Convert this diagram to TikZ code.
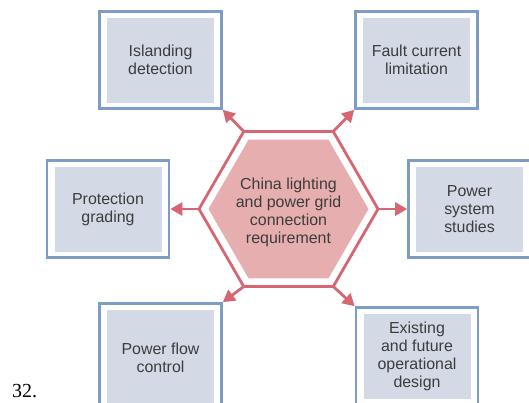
\documentclass[tikz,border=0pt]{standalone}
\usepackage{fontspec}
\setmainfont{Liberation Sans}
\newfontfamily\numfont{Liberation Serif}
\usetikzlibrary{arrows,arrows.meta,shapes}
\definecolor{hexred}{RGB}{214,102,114}
\definecolor{hexfill}{RGB}{230,174,174}
\definecolor{boxblue}{RGB}{126,157,197}
\definecolor{boxfill}{RGB}{211,218,230}
\definecolor{txtgray}{RGB}{60,60,60}
\tikzset{
  topic/.style={draw=boxblue, line width=2.6bp, fill=white, inner sep=0pt,
    minimum width=122bp, minimum height=97bp, align=center, text=txtgray,
    font=\fontsize{16}{18}\selectfont,
    path picture={\fill[boxfill]
      ([shift={(7.5bp,-6bp)}]path picture bounding box.north west) rectangle
      ([shift={(-7.5bp,6bp)}]path picture bounding box.south east);}},
  hexa/.style={regular polygon, regular polygon sides=6, inner sep=0pt, outer sep=0pt},
  link/.style={draw=hexred, line width=2.8bp, -{Triangle[length=12bp,width=13bp]}}
}
\begin{document}
\begin{tikzpicture}[x=1bp,y=-1bp]
\useasboundingbox (0,0) rectangle (529,402);
%% centre
\node[hexa, draw=hexred, line width=2.8bp, minimum size=179bp] (hub) at (288.5,209) {};
\node[hexa, fill=hexfill, minimum size=160bp] (hubfill) at (hub) {};
\node[align=center, text=txtgray, font=\fontsize{16}{18}\selectfont] (hubtext) at (288.5,212)
  {China lighting\\and power grid\\connection\\requirement};
%% topics
\node[topic] (isl) at (160.5,60) {Islanding\\detection};
\node[topic] (flt) at (416.5,60) {Fault current\\limitation};
\node[topic] (prt) at (108,209) {Protection\\grading};
\node[topic] (pss) at (469.5,209) {Power\\system\\studies};
\node[topic, minimum height=109bp] (pfc) at (160.5,358) {Power flow\\control};
\node[topic] (ext) at (417,356) {Existing\\and future\\operational\\design};
%% links
\draw[link] (hub.120) -- (isl.south east);
\draw[link] (hub.60) -- (flt.south west);
\draw[link] (hub.180) -- (prt.east);
\draw[link] (hub.0) -- (pss.west);
\draw[link] (hub.240) -- (pfc.north east);
\draw[link] (hub.300) -- (ext.north west);
%% number
\node[anchor=base west, inner sep=0pt, font=\numfont\fontsize{20}{24}\selectfont]
  (num) at (12,397) {32.};
\end{tikzpicture}
\end{document}
